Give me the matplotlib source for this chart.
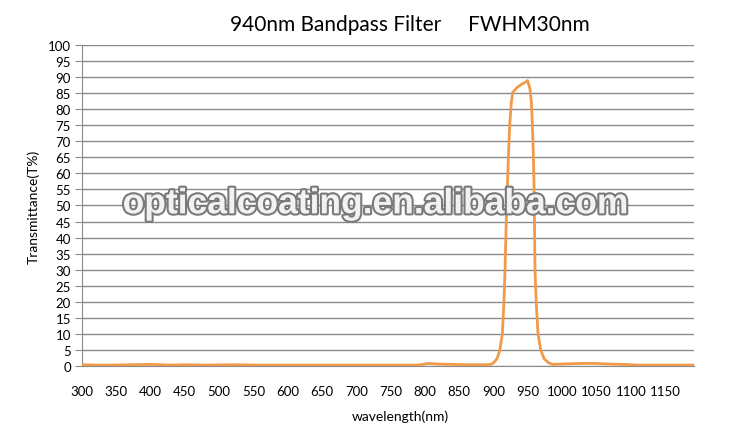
import numpy as np
import matplotlib.pyplot as plt
import matplotlib.patheffects as pe

plt.rcParams['font.family'] = ['Lato', 'DejaVu Sans']

# Transmission curve
wavelength = [300, 320, 340, 370, 400, 430, 450, 480, 520, 560, 600, 650, 700, 750,
              790, 805, 820, 840, 860, 880, 890, 896, 900, 905, 909, 912.7, 915,
              916.6, 919, 921.5, 923.4, 925.8, 928, 934.5, 941.9, 948, 949.5, 953,
              955, 956.5, 958, 959, 960.3, 962, 964.7, 968.6, 973.5, 980, 986, 995,
              1010, 1030, 1050, 1070, 1090, 1110, 1130, 1160, 1192]
transmittance = [0.4, 0.3, 0.3, 0.4, 0.5, 0.3, 0.4, 0.3, 0.4, 0.3, 0.3, 0.3, 0.3, 0.3,
                 0.3, 0.8, 0.6, 0.5, 0.4, 0.4, 0.4, 0.5, 1.0, 2.3, 5.0, 10.0, 20.0,
                 30.0, 50.0, 65.0, 75.0, 82.1, 85.3, 86.8, 87.9, 88.6, 88.9, 86.3,
                 82.1, 75.0, 65.0, 55.0, 30.0, 20.0, 10.0, 5.0, 2.3, 1.0, 0.5, 0.6,
                 0.7, 0.8, 0.8, 0.6, 0.5, 0.3, 0.3, 0.3, 0.3]

x_ticks = np.arange(300, 1151, 50)
y_ticks = np.arange(0, 101, 5)

fig = plt.figure(figsize=(7.5, 4.27), dpi=100)
ax = fig.add_axes([0.1093, 0.1405, 0.816, 0.752])

ax.plot(wavelength, transmittance, color='#f09a4a', linewidth=2.0, zorder=3)

ax.set_xlim(300, 1192)
ax.set_ylim(0, 100)
ax.set_xticks(x_ticks)
ax.set_yticks(y_ticks)
ax.yaxis.grid(True, color='#8a8a8a', linewidth=1.0)
ax.set_axisbelow(True)

for side in ['top', 'right']:
    ax.spines[side].set_visible(False)
ax.spines['left'].set_color('#8a8a8a')
ax.spines['bottom'].set_color('#8a8a8a')
ax.tick_params(axis='y', length=5, color='#8a8a8a', labelsize=9.5, pad=3)
ax.tick_params(axis='x', length=0, labelsize=9.5, pad=14)

ax.set_xlabel('wavelength(nm)', fontsize=10, labelpad=6)
ax.xaxis.set_label_coords(0.52, -0.135)
ax.set_ylabel('Transmittance(T%)', fontsize=10, labelpad=6)
ax.set_title('940nm Bandpass Filter     FWHM30nm', fontsize=15, pad=11, x=0.536)

# watermark
ax.text(0.479, 0.505, 'opticalcoating.en.alibaba.com', transform=ax.transAxes,
        ha='center', va='center', fontsize=25.5, fontweight='bold',
        family=['Liberation Sans', 'DejaVu Sans'], color='#f2f2f2', zorder=4,
        path_effects=[pe.withStroke(linewidth=3, foreground='#7a7a7a')])

plt.savefig('out.png', dpi=100)
